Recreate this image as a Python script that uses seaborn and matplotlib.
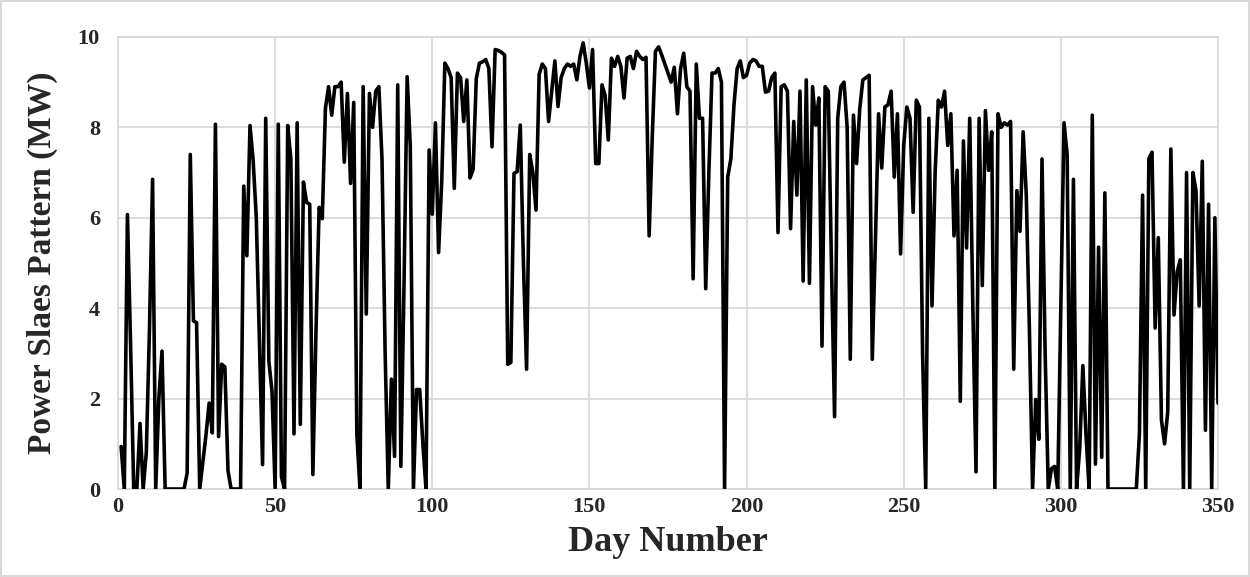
import matplotlib
matplotlib.use("Agg")
import matplotlib.pyplot as plt
import seaborn as sns
import pandas as pd
import numpy as np

# ---- data ----
power_1_50 = [0.94, 0, 6.07, 3.2, 0, 0, 1.45, 0, 0.8, 3.5,
              6.85, 0, 2.0, 3.05, 0, 0, 0, 0, 0, 0,
              0, 0.35, 7.4, 3.72, 3.68, 0, 0.6, 1.2, 1.9, 1.24,
              8.07, 1.16, 2.76, 2.7, 0.4, 0, 0, 0, 0, 6.7,
              5.16, 8.04, 7.27, 6.0, 3.3, 0.54, 8.2, 2.83, 2.16, 0]
power_51_100 = [8.07, 0.27, 0, 8.04, 7.3, 1.22, 8.1, 1.43, 6.79, 6.34,
                6.3, 0.32, 3.5, 6.23, 5.98, 8.42, 8.9, 8.27, 8.9, 8.9,
                9.0, 7.23, 8.75, 6.76, 8.55, 1.2, 0, 8.9, 3.87, 8.75,
                8.0, 8.8, 8.9, 7.3, 3.0, 0, 2.43, 0.72, 8.94, 0.5,
                4.5, 9.12, 7.57, 0, 2.2, 2.2, 1.0, 0, 7.5, 6.08]
power_101_150 = [8.1, 5.23, 6.8, 9.42, 9.3, 9.1, 6.65, 9.2, 9.1, 8.13,
                 9.05, 6.88, 7.07, 9.08, 9.42, 9.45, 9.5, 9.3, 7.57, 9.72,
                 9.7, 9.66, 9.6, 2.76, 2.8, 6.98, 7.02, 8.05, 5.0, 2.65,
                 7.4, 7.0, 6.17, 9.17, 9.4, 9.3, 8.13, 8.8, 9.47, 8.46,
                 9.1, 9.3, 9.4, 9.35, 9.4, 9.05, 9.57, 9.87, 9.42, 8.87]
power_151_200 = [9.72, 7.2, 7.2, 8.94, 8.7, 7.72, 9.53, 9.35, 9.57, 9.35,
                 8.65, 9.53, 9.57, 9.3, 9.68, 9.57, 9.5, 9.55, 5.6, 7.8,
                 9.68, 9.78, 9.6, 9.4, 9.2, 9.0, 9.33, 8.3, 9.3, 9.64,
                 8.9, 8.8, 4.65, 9.4, 8.2, 8.2, 4.43, 7.0, 9.2, 9.2,
                 9.3, 9.0, 0, 6.9, 7.3, 8.5, 9.3, 9.47, 9.1, 9.15]
power_201_250 = [9.42, 9.5, 9.47, 9.35, 9.35, 8.78, 8.8, 9.1, 9.2, 5.67,
                 8.9, 8.94, 8.8, 5.76, 8.13, 6.5, 8.8, 4.6, 9.05, 4.55,
                 8.9, 8.05, 8.65, 3.16, 8.9, 8.8, 5.0, 1.6, 8.2, 8.9,
                 9.0, 8.0, 2.87, 8.27, 7.2, 8.4, 9.05, 9.1, 9.15, 2.87,
                 5.5, 8.3, 7.1, 8.45, 8.5, 8.8, 6.9, 8.3, 5.2, 7.6]
power_251_300 = [8.45, 8.2, 6.12, 8.6, 8.45, 3.0, 0, 8.2, 4.05, 7.0,
                 8.6, 8.45, 8.8, 7.6, 8.3, 5.6, 7.05, 1.94, 7.7, 5.33,
                 8.2, 4.0, 0.38, 8.2, 4.5, 8.37, 7.05, 7.9, 0, 8.3,
                 8.0, 8.1, 8.05, 8.13, 2.65, 6.6, 5.7, 7.9, 6.5, 3.5,
                 0, 1.98, 1.1, 7.3, 3.0, 0, 0.45, 0.5, 0, 4.0]
power_301_350 = [8.1, 7.4, 0, 6.85, 0, 0.9, 2.73, 1.2, 0, 8.27,
                 0.55, 5.35, 0.7, 6.55, 0, 0, 0, 0, 0, 0,
                 0, 0, 0, 0, 1.22, 6.5, 0, 7.3, 7.45, 3.56,
                 5.56, 1.53, 1.0, 1.7, 7.52, 3.85, 4.8, 5.07, 0, 7.0,
                 0, 7.0, 6.6, 4.05, 7.25, 1.3, 6.3, 0, 6.0, 1.9]

power = (power_1_50 + power_51_100 + power_101_150 + power_151_200 +
         power_201_250 + power_251_300 + power_301_350)
days = list(range(1, len(power) + 1))

x_ticks = [0, 50, 100, 150, 200, 250, 300, 350]
y_ticks = [0, 2, 4, 6, 8, 10]
x_label = "Day Number"
y_label = "Power Slaes Pattern (MW)"

df = pd.DataFrame({"day": days, "power": power})

# ---- style ----
sns.set_style("white")
plt.rcParams["font.family"] = ["Liberation Serif", "DejaVu Serif"]

fig = plt.figure(figsize=(12.5, 5.77), dpi=100)
ax = fig.add_axes([0.0944, 0.1525, 0.88, 0.7835])

sns.lineplot(data=df, x="day", y="power", ax=ax, color="black",
             linewidth=2.6, zorder=3)

ax.set_xlim(0, 350)
ax.set_ylim(0, 10)
ax.set_xticks(x_ticks)
ax.set_yticks(y_ticks)
ax.grid(True, color="#d9d9d9", linewidth=1.3, zorder=0)
for s in ax.spines.values():
    s.set_color("#d9d9d9")
    s.set_linewidth(1.3)
ax.tick_params(axis="both", length=0, labelsize=16)
ax.tick_params(axis="x", pad=6)
ax.tick_params(axis="y", pad=13)
for lab in ax.get_xticklabels() + ax.get_yticklabels():
    lab.set_fontweight("bold")

ax.set_xlabel(x_label, fontsize=26, fontweight="bold", labelpad=6)
ax.set_ylabel(y_label, fontsize=24, fontweight="bold", labelpad=14)

fig.patch.set_edgecolor("#d9d9d9")
fig.patch.set_linewidth(1.5)

fig.savefig("out.png", dpi=100, edgecolor=fig.get_edgecolor())
